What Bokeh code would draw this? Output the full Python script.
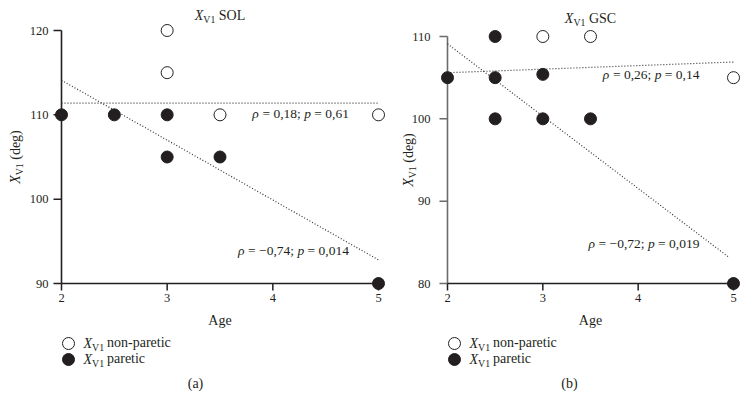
import math
from bokeh.plotting import figure
from bokeh.models import Range1d, Label, Legend, LegendItem
from bokeh.core.properties import value
from bokeh.layouts import row
from bokeh.embed import file_html
from bokeh.resources import INLINE

# ---------------- data ----------------
# panel (a)  X_V1 SOL
a_title = "SOL"
a_np_age = [3, 3, 3.5, 5]
a_np_val = [120, 115, 110, 110]
a_p_age = [2, 2.5, 3, 3, 3.5, 5]
a_p_val = [110, 110, 110, 105, 105, 90]
a_fit_np_age = [2, 5]
a_fit_np_val = [111.4, 111.4]
a_fit_p_age = [2, 5]
a_fit_p_val = [114.1, 92.8]
a_xticks = [2, 3, 4, 5]
a_yticks = [90, 100, 110, 120]
a_stat_np = ("0,18", "0,61")
a_stat_p = ("\u22120,74", "0,014")

# panel (b)  X_V1 GSC
b_title = "GSC"
b_np_age = [3, 3.5, 5]
b_np_val = [110, 110, 105]
b_p_age = [2, 2.5, 2.5, 2.5, 3, 3, 3.5, 5]
b_p_val = [105, 110, 105, 100, 105.4, 100, 100, 80]
b_fit_np_age = [2, 5]
b_fit_np_val = [105.6, 106.9]
b_fit_p_age = [2, 4.95]
b_fit_p_val = [109.1, 83.2]
b_xticks = [2, 3, 4, 5]
b_yticks = [80, 90, 100, 110]
b_stat_np = ("0,26", "0,14")
b_stat_p = ("\u22120,72", "0,019")

x_label = "Age"
legend_np = "non-paretic"
legend_p = "paretic"

# ---------------- style ----------------
SERIF = "Liberation Serif"
INK = "#231f20"
FS = 14
SUB = 0.7
SUB_SHIFT = 4
H = 410

WID = {' ': 0.25, 'S': 0.556, 'O': 0.722, 'L': 0.611, 'G': 0.722, 'C': 0.667,
       'V': 0.722, '1': 0.5, '(': 0.333, ')': 0.333, 'd': 0.5, 'e': 0.444,
       'g': 0.5, 'n': 0.5, 'o': 0.5, '-': 0.333, 'p': 0.5, 'a': 0.444,
       'r': 0.333, 't': 0.278, 'i': 0.278, 'c': 0.444, 'X': 0.611,
       '=': 0.564, '\u2212': 0.564, ',': 0.25, ';': 0.278, '\u03c1': 0.5}


def tw(s, size):
    return sum(WID.get(c, 0.5) for c in s) * size


def rich(p, x, y, parts, dx=0.0, dy=0.0, size=FS, align="left", angle=0.0):
    widths = [tw(t, size * SUB if sub else size) for t, it, sub in parts]
    total = sum(widths)
    adv = {"left": 0.0, "center": -total / 2, "right": -total}[align]
    for (t, it, sub), w in zip(parts, widths):
        fs = size * SUB if sub else size
        shift = SUB_SHIFT if sub else 0.0
        lead = len(t) - len(t.lstrip())
        a = adv + tw(t[:lead], fs)
        if angle == 0:
            ox, oy = dx + a, dy - shift
        else:
            ox, oy = dx + shift, dy + a
        p.add_layout(Label(x=x, y=y, x_offset=ox, y_offset=oy, text=t.strip(),
                           angle=angle, text_font=SERIF, text_font_size=f"{fs:.1f}px",
                           text_font_style="italic" if it else "normal",
                           text_baseline="middle", text_align="left", text_color=INK))
        adv += w


def panel(width, x0_px, xspan, ytop_px, yspan, xt, yt, np_age, np_val, p_age, p_val,
          fnx, fny, fpx, fpy, title, stat_np, stat_np_pos, stat_p, stat_p_pos,
          tag, tag_dx, title_dy, ylab_dx, ystand, yaxis_color):
    sx = xspan / (xt[-1] - xt[0])
    sy = yspan / (yt[-1] - yt[0])
    x_start = xt[0] - x0_px / sx
    y_end = yt[-1] + ytop_px / sy
    p = figure(width=width, height=H, output_backend="svg", toolbar_location=None,
               title=None, min_border=0, x_axis_type=None, y_axis_type=None,
               x_range=Range1d(x_start, x_start + width / sx),
               y_range=Range1d(y_end - H / sy, y_end))
    p.outline_line_color = None
    p.grid.visible = False
    p.background_fill_color = "white"
    p.border_fill_color = "white"

    n_x, n_y = len(xt), len(yt)
    # axis lines (L shape) from the tick extents
    p.segment(x0=[xt[0]], y0=[yt[0]], x1=[xt[0]], y1=[yt[-1]], line_color=yaxis_color, line_width=1.6)
    p.segment(x0=[xt[0]], y0=[yt[0]], x1=[xt[-1]], y1=[yt[0]], line_color=INK, line_width=1.6)
    # ticks
    p.segment(x0=[xt[0]] * n_y, y0=yt, x1=[xt[0] - 8 / sx] * n_y, y1=yt,
              line_color=yaxis_color, line_width=1.5)
    p.segment(x0=xt, y0=[yt[0]] * n_x, x1=xt, y1=[yt[0] - 7 / sy] * n_x,
              line_color=INK, line_width=1.5)
    # tick labels
    p.text(x=[xt[0] - (8 + ystand) / sx] * n_y, y=yt, text=[str(v) for v in yt],
           text_align="right", text_baseline="middle", text_font=value(SERIF),
           text_font_size=value("12.5px"), text_color=INK)
    p.text(x=xt, y=[yt[0] - 10 / sy] * n_x, text=[str(v) for v in xt],
           text_align="center", text_baseline="top", text_font=value(SERIF),
           text_font_size=value("12.5px"), text_color=INK)

    p.line(fnx, fny, line_dash="1 2", line_width=1.2, line_color="#333333")
    p.line(fpx, fpy, line_dash="1 2", line_width=1.2, line_color="#333333")

    r_np = p.scatter(np_age, np_val, marker="circle", size=12, fill_color="white",
                     line_color=INK, line_width=1)
    r_p = p.scatter(p_age, p_val, marker="circle", size=12, fill_color=INK,
                    line_color=INK, line_width=1)

    xmid = (xt[0] + xt[-1]) / 2
    ymid = (yt[0] + yt[-1]) / 2
    # title
    rich(p, xmid, yt[-1], [("X", True, False), ("V1", False, True), (" " + title, False, False)],
         dy=title_dy, align="center")
    # y label
    rich(p, xt[0], ymid, [("X", True, False), ("V1", False, True), (" (deg)", False, False)],
         dx=ylab_dx, align="center", angle=math.pi / 2)
    # x label
    p.add_layout(Label(x=xmid, y=yt[0], y_offset=-37, text=x_label, text_font=SERIF,
                       text_font_size=f"{FS}px", text_align="center", text_baseline="middle",
                       text_color=INK))
    # stats
    for (r, pv), (qx, qy) in ((stat_np, stat_np_pos), (stat_p, stat_p_pos)):
        rich(p, qx, qy, [("\u03c1", True, False), (f" = {r}; ", False, False),
                         ("p", True, False), (f" = {pv}", False, False)], size=13.5, align="right")
    # legend (glyph box 30px -> marker 12px); location from frame bottom-left
    leg_left = x0_px + 7 - 15
    for lab, rr, ly, dyy in ((legend_np, r_np, 52, -60), (legend_p, r_p, 36, -76)):
        leg = Legend(items=[LegendItem(label=lab, renderers=[rr])], location=(leg_left, ly),
                     orientation="vertical", padding=0, margin=0, spacing=0,
                     glyph_width=30, glyph_height=30, label_standoff=24,
                     border_line_color=None, background_fill_alpha=0,
                     label_text_font=SERIF, label_text_font_size=f"{FS}px",
                     label_text_color=INK)
        p.add_layout(leg)
        rich(p, xt[0], yt[0], [("X", True, False), ("V1", False, True)], dx=22, dy=dyy)
    # panel tag
    p.add_layout(Label(x=xt[0], y=yt[0], x_offset=tag_dx, y_offset=-100, text=tag,
                       text_font=SERIF, text_font_size=f"{FS}px", text_align="center",
                       text_baseline="middle", text_color=INK))
    return p


pa = panel(388, 61, 317, 30, 253, a_xticks, a_yticks, a_np_age, a_np_val, a_p_age, a_p_val,
           a_fit_np_age, a_fit_np_val, a_fit_p_age, a_fit_p_val, a_title,
           a_stat_np, (4.72, 110.1), a_stat_p, (4.72, 93.9), "(a)", 134, 15, -46, 5, INK)
pb = panel(359, 59, 286, 36, 247, b_xticks, b_yticks, b_np_age, b_np_val, b_p_age, b_p_val,
           b_fit_np_age, b_fit_np_val, b_fit_p_age, b_fit_p_val, b_title,
           b_stat_np, (4.643, 105.4), b_stat_p, (4.643, 84.9), "(b)", 122, 18, -39, 9, "#6b6b6b")

layout = row(pa, pb)
open("out.html", "w").write(file_html(layout, INLINE))
